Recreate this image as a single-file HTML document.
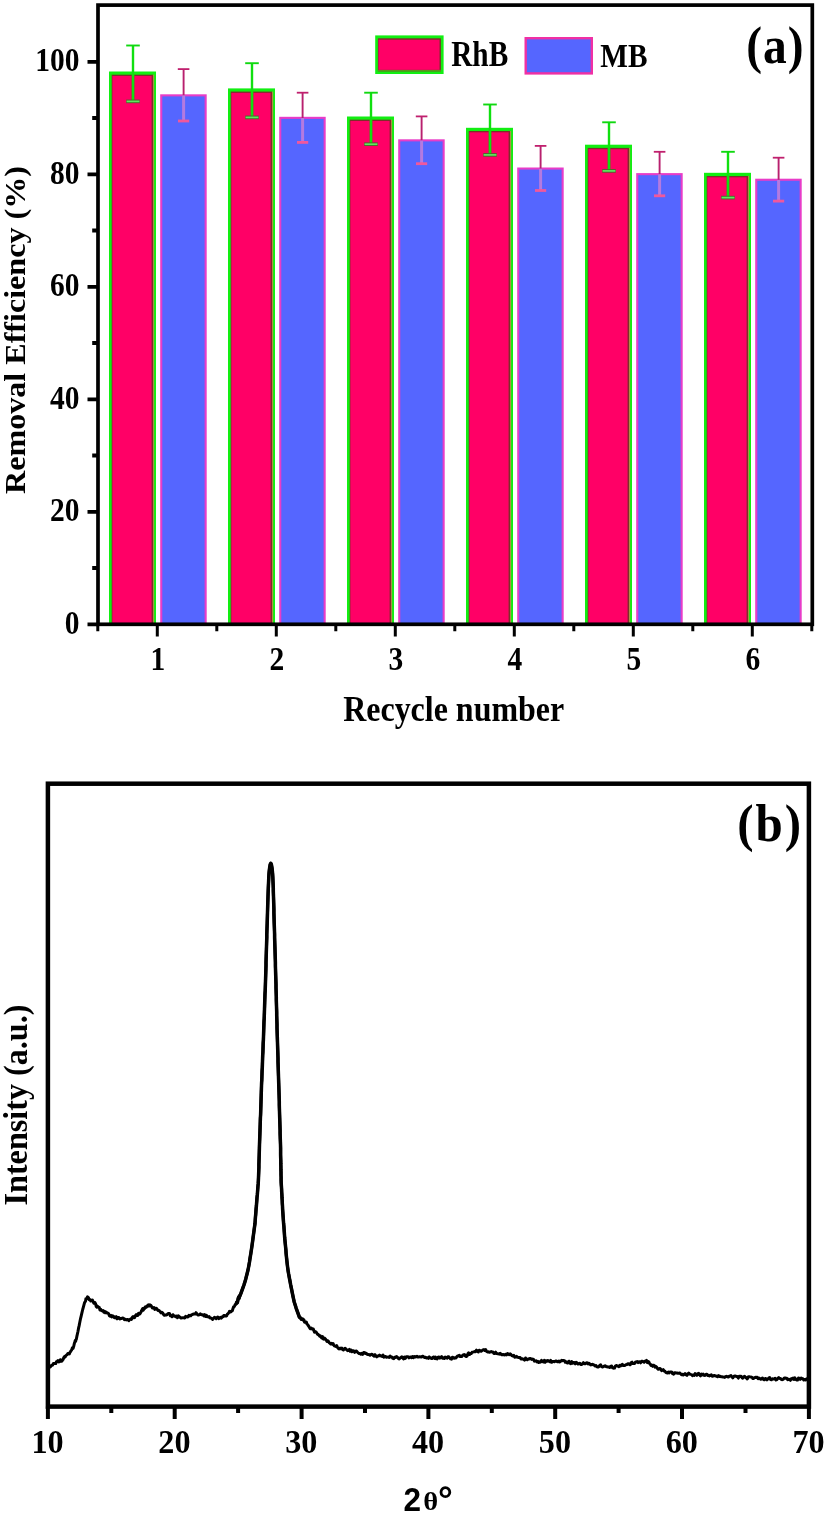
<!DOCTYPE html>
<html lang="en"><head><meta charset="utf-8"><title>Recycle removal efficiency and XRD pattern</title>
<style>html,body{margin:0;padding:0;background:#fff}body{width:827px;height:1518px;overflow:hidden}svg{display:block}text{font-family:"Liberation Serif","Times New Roman",serif;font-weight:bold;fill:#000}.sans{font-family:"Liberation Sans",Arial,sans-serif}</style></head><body>
<svg width="827" height="1518" viewBox="0 0 827 1518">
<rect width="827" height="1518" fill="#fff"/>
<g id="panel-a">
<rect x="109.0" y="71.5" width="47.0" height="552.8" fill="#12ee12"/>
<rect x="153.0" y="74.7" width="1.1" height="549.5" fill="#b09a48"/>
<rect x="111.7" y="74.7" width="41.4" height="549.5" fill="#7d2f2a"/>
<rect x="112.4" y="76.0" width="39.2" height="548.2" fill="#ff0066"/>
<rect x="160.2" y="94.3" width="46.5" height="530.0" fill="#e83cc8"/>
<rect x="162.3" y="96.4" width="42.3" height="527.9" fill="#5566ff"/>
<rect x="228.0" y="88.4" width="47.0" height="535.9" fill="#12ee12"/>
<rect x="272.0" y="91.6" width="1.1" height="532.7" fill="#b09a48"/>
<rect x="230.7" y="91.6" width="41.4" height="532.7" fill="#7d2f2a"/>
<rect x="231.4" y="92.9" width="39.2" height="531.4" fill="#ff0066"/>
<rect x="279.2" y="116.8" width="46.5" height="507.4" fill="#e83cc8"/>
<rect x="281.3" y="118.9" width="42.3" height="505.4" fill="#5566ff"/>
<rect x="347.0" y="116.5" width="47.0" height="507.8" fill="#12ee12"/>
<rect x="391.0" y="119.7" width="1.1" height="504.6" fill="#b09a48"/>
<rect x="349.7" y="119.7" width="41.4" height="504.6" fill="#7d2f2a"/>
<rect x="350.4" y="121.0" width="39.2" height="503.2" fill="#ff0066"/>
<rect x="398.2" y="139.3" width="46.5" height="484.9" fill="#e83cc8"/>
<rect x="400.3" y="141.4" width="42.3" height="482.9" fill="#5566ff"/>
<rect x="466.0" y="127.8" width="47.0" height="496.5" fill="#12ee12"/>
<rect x="510.0" y="131.0" width="1.1" height="493.3" fill="#b09a48"/>
<rect x="468.7" y="131.0" width="41.4" height="493.3" fill="#7d2f2a"/>
<rect x="469.4" y="132.3" width="39.2" height="492.0" fill="#ff0066"/>
<rect x="517.2" y="167.5" width="46.5" height="456.8" fill="#e83cc8"/>
<rect x="519.3" y="169.6" width="42.3" height="454.7" fill="#5566ff"/>
<rect x="585.0" y="144.7" width="47.0" height="479.6" fill="#12ee12"/>
<rect x="629.0" y="147.9" width="1.1" height="476.4" fill="#b09a48"/>
<rect x="587.7" y="147.9" width="41.4" height="476.4" fill="#7d2f2a"/>
<rect x="588.4" y="149.2" width="39.2" height="475.1" fill="#ff0066"/>
<rect x="636.2" y="173.1" width="46.5" height="451.2" fill="#e83cc8"/>
<rect x="638.3" y="175.2" width="42.3" height="449.1" fill="#5566ff"/>
<rect x="704.0" y="172.8" width="47.0" height="451.5" fill="#12ee12"/>
<rect x="748.0" y="176.0" width="1.1" height="448.3" fill="#b09a48"/>
<rect x="706.7" y="176.0" width="41.4" height="448.3" fill="#7d2f2a"/>
<rect x="707.4" y="177.3" width="39.2" height="447.0" fill="#ff0066"/>
<rect x="755.2" y="178.7" width="46.5" height="445.6" fill="#e83cc8"/>
<rect x="757.3" y="180.8" width="42.3" height="443.5" fill="#5566ff"/>
<path d="M133.0 75.0V101.4" stroke="#7a5a2a" stroke-width="3.6" fill="none" opacity="0.55"/>
<path d="M133.0 45.5V101.4" stroke="#10e010" stroke-width="2.4" fill="none"/>
<path d="M126.2 45.5H139.8" stroke="#10d810" stroke-width="1.9" fill="none"/>
<path d="M126.2 101.4H139.8" stroke="#4a6a2a" stroke-width="3.6" fill="none"/>
<path d="M126.6 101.4H139.4" stroke="#5fe65f" stroke-width="1.7" fill="none"/>
<path d="M183.6 69.1V95.5" stroke="#b8206e" stroke-width="1.9" fill="none"/>
<path d="M177.8 69.1H189.4" stroke="#c0206e" stroke-width="1.8" fill="none"/>
<path d="M183.6 95.5V121.0" stroke="#b47ae0" stroke-width="3" fill="none"/>
<path d="M178.0 121.0H189.2" stroke="#f0589c" stroke-width="2.8" fill="none"/>
<path d="M252.0 91.9V117.4" stroke="#7a5a2a" stroke-width="3.6" fill="none" opacity="0.55"/>
<path d="M252.0 63.2V117.4" stroke="#10e010" stroke-width="2.4" fill="none"/>
<path d="M245.2 63.2H258.8" stroke="#10d810" stroke-width="1.9" fill="none"/>
<path d="M245.2 117.4H258.8" stroke="#4a6a2a" stroke-width="3.6" fill="none"/>
<path d="M245.6 117.4H258.4" stroke="#5fe65f" stroke-width="1.7" fill="none"/>
<path d="M302.6 92.7V118.0" stroke="#b8206e" stroke-width="1.9" fill="none"/>
<path d="M296.8 92.7H308.4" stroke="#c0206e" stroke-width="1.8" fill="none"/>
<path d="M302.6 118.0V142.4" stroke="#b47ae0" stroke-width="3" fill="none"/>
<path d="M297.0 142.4H308.2" stroke="#f0589c" stroke-width="2.8" fill="none"/>
<path d="M371.0 120.0V144.2" stroke="#7a5a2a" stroke-width="3.6" fill="none" opacity="0.55"/>
<path d="M371.0 92.7V144.2" stroke="#10e010" stroke-width="2.4" fill="none"/>
<path d="M364.2 92.7H377.8" stroke="#10d810" stroke-width="1.9" fill="none"/>
<path d="M364.2 144.2H377.8" stroke="#4a6a2a" stroke-width="3.6" fill="none"/>
<path d="M364.6 144.2H377.4" stroke="#5fe65f" stroke-width="1.7" fill="none"/>
<path d="M421.6 116.4V140.5" stroke="#b8206e" stroke-width="1.9" fill="none"/>
<path d="M415.8 116.4H427.4" stroke="#c0206e" stroke-width="1.8" fill="none"/>
<path d="M421.6 140.5V163.7" stroke="#b47ae0" stroke-width="3" fill="none"/>
<path d="M416.0 163.7H427.2" stroke="#f0589c" stroke-width="2.8" fill="none"/>
<path d="M490.0 131.3V154.9" stroke="#7a5a2a" stroke-width="3.6" fill="none" opacity="0.55"/>
<path d="M490.0 104.5V154.9" stroke="#10e010" stroke-width="2.4" fill="none"/>
<path d="M483.2 104.5H496.8" stroke="#10d810" stroke-width="1.9" fill="none"/>
<path d="M483.2 154.9H496.8" stroke="#4a6a2a" stroke-width="3.6" fill="none"/>
<path d="M483.6 154.9H496.4" stroke="#5fe65f" stroke-width="1.7" fill="none"/>
<path d="M540.6 145.9V168.7" stroke="#b8206e" stroke-width="1.9" fill="none"/>
<path d="M534.8 145.9H546.4" stroke="#c0206e" stroke-width="1.8" fill="none"/>
<path d="M540.6 168.7V190.5" stroke="#b47ae0" stroke-width="3" fill="none"/>
<path d="M535.0 190.5H546.2" stroke="#f0589c" stroke-width="2.8" fill="none"/>
<path d="M609.0 148.2V170.9" stroke="#7a5a2a" stroke-width="3.6" fill="none" opacity="0.55"/>
<path d="M609.0 122.3V170.9" stroke="#10e010" stroke-width="2.4" fill="none"/>
<path d="M602.2 122.3H615.8" stroke="#10d810" stroke-width="1.9" fill="none"/>
<path d="M602.2 170.9H615.8" stroke="#4a6a2a" stroke-width="3.6" fill="none"/>
<path d="M602.6 170.9H615.4" stroke="#5fe65f" stroke-width="1.7" fill="none"/>
<path d="M659.6 151.8V174.3" stroke="#b8206e" stroke-width="1.9" fill="none"/>
<path d="M653.8 151.8H665.4" stroke="#c0206e" stroke-width="1.8" fill="none"/>
<path d="M659.6 174.3V195.8" stroke="#b47ae0" stroke-width="3" fill="none"/>
<path d="M654.0 195.8H665.2" stroke="#f0589c" stroke-width="2.8" fill="none"/>
<path d="M728.0 176.3V197.6" stroke="#7a5a2a" stroke-width="3.6" fill="none" opacity="0.55"/>
<path d="M728.0 151.8V197.6" stroke="#10e010" stroke-width="2.4" fill="none"/>
<path d="M721.2 151.8H734.8" stroke="#10d810" stroke-width="1.9" fill="none"/>
<path d="M721.2 197.6H734.8" stroke="#4a6a2a" stroke-width="3.6" fill="none"/>
<path d="M721.6 197.6H734.4" stroke="#5fe65f" stroke-width="1.7" fill="none"/>
<path d="M778.6 157.7V179.9" stroke="#b8206e" stroke-width="1.9" fill="none"/>
<path d="M772.8 157.7H784.4" stroke="#c0206e" stroke-width="1.8" fill="none"/>
<path d="M778.6 179.9V201.1" stroke="#b47ae0" stroke-width="3" fill="none"/>
<path d="M773.0 201.1H784.2" stroke="#f0589c" stroke-width="2.8" fill="none"/>
<rect x="98.0" y="5.1" width="714.3" height="619.1999999999999" fill="none" stroke="#000" stroke-width="3.7"/>
<path d="M87.5 624.3H98.0M92.2 568.0H98.0M87.5 511.8H98.0M92.2 455.5H98.0M87.5 399.3H98.0M92.2 343.0H98.0M87.5 286.8H98.0M92.2 230.5H98.0M87.5 174.3H98.0M92.2 118.0H98.0M87.5 61.8H98.0" stroke="#000" stroke-width="3.8" fill="none"/>
<path d="M157.3 624.3V636.5M276.3 624.3V636.5M395.3 624.3V636.5M514.3 624.3V636.5M633.3 624.3V636.5M752.3 624.3V636.5M97.8 624.3V631.3M216.8 624.3V631.3M335.8 624.3V631.3M454.8 624.3V631.3M573.8 624.3V631.3M692.8 624.3V631.3M811.8 624.3V631.3" stroke="#000" stroke-width="3.0" fill="none"/>
<text transform="translate(79.4 633.9) scale(1 1.15)" font-size="29.5" text-anchor="end">0</text>
<text transform="translate(79.4 521.4) scale(1 1.15)" font-size="29.5" text-anchor="end">20</text>
<text transform="translate(79.4 408.9) scale(1 1.15)" font-size="29.5" text-anchor="end">40</text>
<text transform="translate(79.4 296.4) scale(1 1.15)" font-size="29.5" text-anchor="end">60</text>
<text transform="translate(79.4 183.9) scale(1 1.15)" font-size="29.5" text-anchor="end">80</text>
<text transform="translate(79.4 71.4) scale(1 1.15)" font-size="29.5" text-anchor="end">100</text>
<text transform="translate(157.9 670.4) scale(1 1.14)" font-size="29.5" text-anchor="middle">1</text>
<text transform="translate(276.9 670.4) scale(1 1.14)" font-size="29.5" text-anchor="middle">2</text>
<text transform="translate(395.9 670.4) scale(1 1.14)" font-size="29.5" text-anchor="middle">3</text>
<text transform="translate(514.9 670.4) scale(1 1.14)" font-size="29.5" text-anchor="middle">4</text>
<text transform="translate(633.9 670.4) scale(1 1.14)" font-size="29.5" text-anchor="middle">5</text>
<text transform="translate(752.9 670.4) scale(1 1.14)" font-size="29.5" text-anchor="middle">6</text>
<text x="343.2" y="720.8" font-size="34.8" textLength="221" lengthAdjust="spacingAndGlyphs">Recycle number</text>
<text transform="translate(25.0 494) rotate(-90)" font-size="28.8" textLength="328" lengthAdjust="spacingAndGlyphs">Removal Efficiency (%)</text>
<rect x="375.2" y="35.4" width="68.4" height="38.6" fill="#12ee12"/>
<rect x="377.9" y="38.3" width="63.0" height="33.0" fill="#7d2f2a"/>
<rect x="377.9" y="69.8" width="63.0" height="1.5" fill="#5f8f20"/>
<rect x="378.5" y="39.7" width="61.0" height="30.1" fill="#ff0066"/>
<text transform="translate(451.2 65.6) scale(1 1.19)" font-size="29.3" text-anchor="start">RhB</text>
<rect x="524.5" y="37" width="68.5" height="37.6" fill="#f030a4"/>
<rect x="526.9" y="39.4" width="63.7" height="32.8" fill="#5566ff"/>
<text transform="translate(600.3 67.1) scale(1 1.14)" font-size="29.3" text-anchor="start">MB</text>
<text transform="translate(746.2 62.6) scale(1 1.09)" font-size="47.5" letter-spacing="1.0">(a)</text>
</g>
<g id="panel-b">
<path d="M48.8 1366.5L49.5 1366.6L50.3 1367.0L51.1 1365.8L51.8 1365.3L52.6 1365.0L53.4 1363.5L54.2 1363.6L54.9 1363.5L55.7 1363.6L56.5 1361.6L57.2 1361.4L58.0 1360.5L58.8 1361.9L59.5 1361.7L60.3 1359.7L61.0 1361.2L61.8 1361.2L62.5 1360.1L63.1 1359.4L63.8 1357.6L64.5 1356.5L65.1 1357.0L65.8 1355.6L66.5 1355.1L67.1 1354.7L67.8 1353.6L68.3 1353.9L68.8 1353.4L69.4 1353.8L69.9 1352.5L70.4 1351.9L71.0 1350.8L71.5 1350.3L72.0 1348.9L72.4 1347.7L72.7 1348.6L73.1 1348.3L73.4 1347.2L73.8 1346.0L74.2 1344.1L74.5 1342.8L74.9 1342.0L75.2 1340.6L75.6 1341.4L75.9 1340.0L76.3 1339.3L76.8 1336.7L77.4 1334.0L78.0 1331.2L78.5 1328.4L79.2 1325.4L79.8 1322.3L80.4 1319.2L81.1 1316.3L81.9 1312.8L82.7 1309.5L83.5 1306.6L84.5 1302.8L85.6 1300.9L85.9 1298.7L86.3 1299.1L86.6 1298.8L87.5 1296.8L88.4 1297.6L89.2 1299.7L90.0 1299.5L90.8 1301.0L91.6 1300.4L92.4 1300.0L93.2 1301.9L93.8 1303.1L94.4 1302.6L95.0 1302.6L95.6 1303.9L96.2 1306.4L96.9 1307.1L97.5 1306.2L98.1 1306.9L98.7 1307.2L99.3 1307.6L100.0 1310.0L100.8 1309.4L101.5 1310.6L102.3 1310.9L103.0 1310.6L103.8 1312.2L104.5 1311.3L105.3 1312.8L106.1 1312.1L106.9 1313.0L107.7 1313.1L108.5 1313.5L109.4 1315.7L110.2 1316.2L111.0 1315.3L111.8 1316.9L112.6 1315.8L113.5 1316.3L114.4 1317.8L115.3 1317.8L116.2 1316.7L117.1 1318.8L118.0 1317.6L118.9 1317.6L119.8 1319.0L120.7 1318.4L121.6 1318.4L122.5 1318.0L123.4 1318.2L124.4 1319.6L125.3 1319.2L126.2 1320.0L127.1 1319.6L128.0 1319.6L128.8 1320.7L129.7 1319.5L130.5 1319.1L131.4 1319.5L132.2 1317.5L133.1 1316.5L133.9 1317.8L134.6 1317.6L135.4 1315.7L136.2 1314.7L136.9 1315.4L137.7 1315.6L138.5 1313.4L139.2 1314.2L140.0 1313.8L140.7 1312.6L141.4 1311.3L142.0 1309.7L142.7 1308.6L143.4 1310.1L144.1 1308.1L144.8 1308.3L145.5 1306.7L146.1 1307.4L146.8 1306.7L147.5 1305.6L148.3 1304.9L149.1 1306.1L149.9 1304.9L150.8 1305.3L151.6 1306.6L152.4 1308.0L153.2 1308.1L154.0 1307.6L154.8 1309.4L155.5 1308.5L156.3 1308.3L157.1 1309.3L157.9 1310.4L158.7 1310.2L159.4 1310.9L160.2 1311.9L161.0 1312.9L161.8 1312.3L162.7 1312.9L163.5 1314.5L164.4 1315.3L165.2 1314.9L166.1 1315.0L166.9 1314.8L167.8 1313.8L168.6 1313.4L169.5 1313.4L170.3 1315.7L171.2 1315.9L172.0 1316.7L172.9 1314.7L173.8 1315.9L174.8 1316.0L175.7 1316.7L176.6 1316.0L177.5 1317.7L178.4 1315.9L179.3 1316.7L180.2 1317.5L181.2 1318.1L182.1 1317.9L183.0 1317.7L183.9 1317.8L184.7 1318.0L185.6 1316.4L186.5 1316.7L187.3 1317.0L188.2 1316.8L189.0 1315.3L189.9 1315.7L190.8 1315.7L191.6 1314.8L192.5 1314.6L193.4 1313.9L194.2 1314.1L195.1 1314.1L196.0 1312.7L196.8 1313.8L197.7 1314.9L198.6 1315.0L199.4 1314.7L200.3 1313.8L201.2 1314.7L202.1 1314.7L202.9 1314.7L203.8 1316.0L204.7 1314.7L205.6 1316.4L206.4 1315.3L207.3 1316.7L208.2 1316.9L209.1 1316.6L210.0 1318.0L210.9 1318.0L211.8 1318.5L212.7 1319.5L213.6 1318.2L214.5 1317.3L215.3 1317.8L216.2 1318.7L217.0 1317.6L217.8 1317.0L218.7 1318.6L219.5 1318.2L220.4 1317.4L221.3 1318.1L222.2 1316.7L223.1 1316.8L223.8 1315.4L224.6 1315.4L225.3 1316.0L226.0 1316.1L226.7 1315.7L227.4 1314.0L228.2 1313.6L228.9 1312.4L229.5 1311.3L230.1 1311.5L230.6 1312.0L231.2 1311.7L231.8 1310.8L232.4 1310.6L233.0 1308.4L233.5 1307.0L234.1 1306.8L234.7 1305.7L235.1 1304.8L235.5 1304.5L235.9 1304.4L236.3 1303.5L236.7 1302.3L237.1 1302.7L237.4 1302.5L237.8 1300.5L238.2 1298.5L238.6 1297.2L239.0 1298.4L239.4 1295.9L239.8 1296.1L240.9 1293.4L241.9 1290.6L243.0 1287.6L244.1 1284.5L244.9 1281.9L245.7 1279.2L246.4 1276.4L247.2 1273.3L248.0 1270.0L248.5 1267.5L249.0 1264.8L249.5 1262.0L249.9 1259.1L250.4 1256.1L250.9 1253.0L251.4 1249.7L251.8 1247.0L252.2 1244.2L252.6 1241.3L253.0 1238.3L253.4 1235.2L253.8 1232.2L254.2 1229.2L254.6 1226.3L255.0 1223.5L255.2 1220.5L255.4 1217.5L255.7 1214.5L255.9 1211.6L256.1 1208.8L256.4 1206.0L256.6 1203.2L256.8 1200.5L257.0 1197.6L257.3 1194.9L257.5 1192.3L257.7 1189.7L257.9 1186.9L258.2 1183.7L258.4 1180.0L258.5 1177.6L258.6 1175.2L258.7 1172.6L258.8 1170.0L258.9 1167.2L258.9 1164.4L259.0 1161.4L259.1 1158.3L259.2 1155.0L259.3 1151.7L259.4 1148.1L259.5 1144.4L259.6 1141.8L259.7 1139.1L259.8 1136.3L259.9 1133.4L260.0 1130.4L260.1 1127.4L260.2 1124.3L260.3 1121.1L260.4 1117.9L260.6 1114.7L260.7 1111.5L260.8 1108.2L260.9 1104.9L261.0 1101.7L261.1 1098.5L261.2 1095.3L261.3 1092.1L261.4 1089.0L261.5 1085.9L261.6 1082.9L261.8 1079.8L261.9 1076.7L262.0 1073.6L262.1 1070.6L262.3 1067.5L262.4 1064.4L262.5 1061.4L262.6 1058.3L262.7 1055.2L262.9 1052.1L263.0 1049.1L263.1 1046.0L263.2 1042.9L263.4 1039.8L263.5 1036.8L263.6 1033.7L263.7 1030.6L263.8 1027.5L263.9 1024.5L264.0 1021.4L264.2 1018.3L264.3 1015.2L264.4 1012.2L264.5 1009.1L264.6 1006.0L264.7 1002.9L264.8 999.8L264.9 996.8L265.0 993.7L265.2 990.6L265.3 987.5L265.4 984.5L265.5 981.4L265.6 978.3L265.7 975.2L265.8 972.1L265.9 968.9L266.0 965.7L266.0 962.5L266.1 959.3L266.2 956.1L266.3 953.0L266.4 949.8L266.5 946.6L266.6 943.5L266.7 940.4L266.8 937.4L266.8 934.4L266.9 931.4L267.0 928.5L267.1 925.7L267.2 923.0L267.3 919.5L267.4 916.1L267.5 912.7L267.6 909.3L267.7 906.0L267.8 902.8L267.9 899.6L268.0 896.6L268.1 893.7L268.2 890.9L268.3 888.3L268.4 885.8L268.5 883.6L268.6 881.5L268.8 876.9L269.0 873.7L269.2 871.4L269.4 869.7L269.6 868.0L270.2 864.5L270.8 863.3L271.4 864.5L272.0 868.0L272.2 869.7L272.4 871.4L272.6 873.7L272.8 876.9L273.0 881.5L273.1 883.6L273.2 885.8L273.3 888.3L273.3 890.9L273.4 893.7L273.5 896.6L273.6 899.6L273.7 902.8L273.8 906.0L273.9 909.3L273.9 912.7L274.0 916.1L274.1 919.5L274.2 923.0L274.3 925.7L274.4 928.5L274.5 931.4L274.6 934.4L274.6 937.4L274.7 940.4L274.8 943.5L274.9 946.6L275.0 949.8L275.1 953.0L275.2 956.1L275.3 959.3L275.4 962.5L275.4 965.7L275.5 968.9L275.6 972.1L275.7 975.2L275.8 978.3L275.9 981.4L276.0 984.5L276.0 987.5L276.1 990.6L276.2 993.7L276.3 996.8L276.3 999.8L276.4 1002.9L276.5 1006.0L276.6 1009.1L276.7 1012.2L276.7 1015.2L276.8 1018.3L276.9 1021.4L277.0 1024.5L277.0 1027.5L277.1 1030.6L277.2 1033.7L277.3 1036.8L277.4 1039.8L277.5 1042.9L277.6 1046.0L277.7 1049.1L277.8 1052.1L277.9 1055.2L278.0 1058.3L278.0 1061.4L278.1 1064.4L278.2 1067.5L278.3 1070.6L278.4 1073.6L278.5 1076.7L278.6 1079.8L278.7 1082.9L278.8 1085.9L278.9 1089.0L279.0 1092.1L279.1 1095.3L279.2 1098.5L279.3 1101.7L279.3 1104.9L279.4 1108.2L279.5 1111.5L279.6 1114.7L279.7 1117.9L279.8 1121.1L279.9 1124.3L280.0 1127.4L280.1 1130.4L280.1 1133.4L280.2 1136.3L280.3 1139.1L280.4 1141.8L280.5 1144.4L280.6 1148.1L280.6 1151.6L280.6 1154.8L280.7 1158.0L280.8 1161.0L280.8 1163.9L280.9 1166.6L280.9 1169.4L281.0 1172.0L281.0 1174.7L281.1 1177.3L281.1 1180.0L281.2 1183.2L281.4 1186.2L281.6 1189.2L281.7 1192.1L281.9 1194.9L282.0 1197.7L282.2 1200.5L282.3 1203.3L282.5 1206.1L282.6 1209.0L282.8 1211.9L283.0 1214.8L283.2 1217.7L283.4 1220.6L283.6 1223.5L283.9 1226.4L284.1 1229.3L284.3 1232.2L284.5 1235.1L284.7 1238.0L285.0 1241.0L285.3 1244.0L285.6 1247.1L285.9 1250.2L286.1 1253.3L286.4 1256.3L286.7 1259.2L287.0 1262.0L287.3 1264.7L287.6 1267.1L288.1 1270.7L288.6 1273.8L289.1 1276.5L289.6 1279.1L290.1 1281.7L290.6 1284.5L291.2 1287.4L291.8 1290.4L292.4 1293.4L293.0 1296.3L293.6 1299.2L294.2 1301.9L295.2 1305.1L296.2 1308.3L297.3 1311.3L298.3 1314.1L299.3 1316.9L299.9 1317.7L300.6 1317.8L301.2 1319.5L301.9 1318.5L302.6 1318.9L303.2 1320.2L303.9 1319.8L304.5 1322.2L305.2 1321.8L305.8 1322.0L306.4 1322.2L307.0 1324.1L307.7 1324.6L308.3 1325.7L308.9 1326.5L309.5 1327.5L310.1 1328.7L310.8 1328.8L311.4 1328.1L312.0 1329.1L312.6 1329.0L313.3 1329.1L313.9 1330.7L314.5 1332.1L315.2 1331.6L316.0 1332.1L316.7 1332.8L317.4 1334.2L318.1 1334.5L318.9 1335.2L319.6 1336.1L320.3 1335.8L321.1 1337.1L321.8 1338.0L322.5 1336.6L323.2 1338.8L324.0 1339.2L324.7 1338.2L325.5 1339.0L326.2 1340.0L327.0 1341.4L327.7 1340.7L328.5 1341.4L329.2 1342.7L330.0 1343.2L330.7 1344.0L331.5 1343.4L332.2 1344.1L333.0 1343.5L333.7 1345.0L334.5 1345.9L335.2 1346.0L336.0 1346.5L336.7 1345.7L337.5 1347.5L338.4 1348.4L339.2 1348.9L340.1 1348.1L340.9 1348.8L341.8 1348.0L342.6 1349.5L343.4 1350.0L344.3 1349.0L345.2 1348.3L346.0 1349.2L346.9 1349.9L347.7 1350.7L348.6 1350.4L349.4 1349.4L350.2 1351.3L351.1 1350.0L352.0 1351.7L352.9 1350.7L353.8 1351.0L354.7 1352.3L355.5 1351.2L356.4 1351.0L357.3 1352.0L358.2 1352.9L359.1 1353.6L360.0 1353.5L360.9 1354.2L361.8 1353.3L362.7 1354.4L363.6 1352.6L364.4 1352.6L365.3 1353.5L366.2 1353.2L367.1 1354.4L368.0 1354.6L368.9 1354.4L369.8 1355.3L370.6 1354.9L371.5 1354.2L372.4 1354.4L373.3 1355.6L374.2 1356.2L375.1 1354.7L375.9 1356.0L376.8 1356.8L377.7 1355.9L378.6 1355.9L379.5 1355.1L380.4 1355.8L381.2 1356.0L382.1 1356.4L383.0 1355.1L383.9 1357.2L384.8 1356.7L385.7 1356.4L386.5 1357.3L387.4 1357.1L388.3 1356.9L389.2 1357.4L390.1 1356.1L391.0 1357.0L391.9 1357.0L392.8 1358.4L393.7 1358.7L394.6 1357.2L395.6 1357.4L396.5 1356.6L397.4 1357.2L398.3 1358.4L399.2 1358.9L400.1 1358.0L401.0 1357.4L401.9 1356.9L402.8 1357.9L403.7 1358.9L404.5 1357.1L405.4 1358.3L406.3 1356.7L407.2 1356.7L408.1 1356.7L409.0 1357.9L409.8 1357.2L410.7 1357.1L411.6 1357.7L412.5 1356.5L413.4 1357.7L414.3 1356.5L415.1 1357.1L416.0 1356.6L416.9 1356.3L417.8 1357.0L418.7 1357.0L419.6 1356.8L420.4 1356.8L421.3 1357.1L422.2 1356.2L423.1 1356.2L424.0 1357.2L424.8 1357.5L425.7 1357.3L426.6 1358.1L427.5 1357.7L428.4 1358.3L429.3 1356.9L430.1 1357.8L431.0 1358.3L431.9 1358.6L432.8 1357.3L433.7 1357.0L434.6 1358.5L435.4 1357.1L436.3 1358.7L437.2 1358.9L438.1 1357.1L439.0 1356.9L439.9 1358.1L440.7 1357.3L441.6 1356.7L442.5 1358.3L443.4 1357.8L444.3 1358.5L445.2 1357.1L446.1 1357.4L447.0 1358.2L447.9 1356.7L448.8 1356.8L449.7 1358.0L450.6 1358.9L451.5 1359.2L452.4 1357.2L453.3 1357.6L454.2 1358.3L455.1 1357.7L456.0 1358.0L456.9 1356.7L457.7 1356.0L458.6 1355.8L459.4 1355.4L460.2 1356.5L461.1 1356.5L461.9 1356.4L462.8 1355.2L463.6 1354.8L464.5 1354.6L465.3 1355.9L466.2 1356.5L467.0 1356.2L467.9 1353.8L468.7 1352.8L469.6 1354.5L470.4 1353.4L471.2 1353.6L472.1 1352.3L472.9 1352.1L473.8 1351.9L474.6 1351.5L475.5 1351.7L476.5 1350.2L477.4 1351.4L478.3 1351.9L479.2 1350.3L480.2 1350.6L481.1 1351.3L482.0 1350.6L482.9 1349.9L483.9 1349.6L484.8 1350.5L485.7 1349.5L486.6 1351.5L487.5 1351.9L488.4 1351.8L489.3 1352.3L490.2 1352.0L491.2 1351.5L492.1 1352.0L493.0 1352.0L493.9 1353.4L494.8 1353.4L495.7 1352.2L496.6 1353.6L497.5 1353.7L498.4 1353.9L499.3 1354.2L500.2 1353.3L501.1 1354.4L502.0 1354.8L502.9 1354.5L503.9 1354.8L504.8 1354.9L505.7 1354.2L506.6 1354.9L507.5 1353.6L508.4 1354.1L509.3 1354.7L510.2 1353.8L511.1 1354.6L512.0 1355.7L512.9 1356.1L513.8 1355.4L514.7 1357.2L515.6 1357.1L516.5 1356.4L517.4 1357.2L518.3 1357.4L519.2 1357.5L520.1 1357.4L521.0 1359.0L521.9 1358.7L522.8 1359.0L523.7 1359.3L524.6 1360.1L525.5 1358.0L526.4 1359.1L527.3 1359.8L528.1 1358.9L529.0 1359.1L529.9 1358.4L530.8 1358.7L531.7 1359.4L532.6 1359.0L533.5 1359.4L534.4 1361.2L535.3 1360.9L536.2 1360.8L537.0 1362.0L537.9 1361.4L538.8 1362.4L539.7 1361.8L540.6 1362.1L541.5 1360.4L542.4 1361.4L543.4 1362.0L544.3 1360.4L545.2 1362.3L546.1 1360.8L547.0 1361.2L547.9 1360.6L548.9 1361.2L549.8 1361.7L550.7 1360.4L551.6 1362.3L552.5 1361.5L553.5 1361.5L554.4 1361.7L555.3 1361.2L556.2 1360.9L557.1 1361.7L558.0 1361.7L559.0 1361.0L559.9 1362.0L560.8 1361.2L561.7 1360.3L562.6 1360.7L563.5 1360.4L564.4 1360.6L565.3 1362.2L566.2 1361.7L567.1 1362.9L568.0 1362.9L568.9 1361.2L569.8 1363.2L570.7 1363.6L571.7 1361.6L572.6 1363.2L573.5 1362.5L574.4 1362.5L575.3 1363.8L576.2 1362.4L577.1 1362.8L578.0 1364.0L578.9 1363.8L579.8 1363.2L580.7 1364.4L581.6 1364.4L582.5 1363.9L583.4 1362.7L584.3 1363.7L585.2 1363.7L586.1 1363.1L587.1 1362.7L588.0 1363.9L588.9 1363.3L589.8 1364.0L590.7 1364.9L591.6 1364.7L592.5 1364.2L593.4 1365.0L594.3 1364.9L595.2 1365.9L596.1 1365.6L597.0 1366.8L598.0 1367.1L598.9 1366.7L599.8 1365.4L600.7 1364.9L601.6 1366.7L602.5 1367.0L603.4 1366.7L604.3 1366.1L605.3 1365.8L606.2 1366.8L607.1 1366.8L608.0 1367.0L608.9 1367.1L609.9 1367.5L610.8 1366.2L611.7 1366.1L612.6 1367.9L613.5 1368.2L614.5 1368.1L615.4 1366.0L616.3 1365.5L617.2 1365.8L618.0 1366.2L618.9 1366.7L619.8 1365.4L620.7 1366.0L621.5 1364.8L622.4 1364.4L623.3 1365.6L624.2 1365.5L625.0 1365.5L625.9 1364.7L626.8 1364.6L627.7 1363.7L628.5 1363.7L629.4 1364.5L630.3 1364.8L631.1 1362.8L632.0 1362.2L632.9 1363.6L633.7 1363.4L634.6 1363.5L635.5 1362.0L636.3 1362.0L637.2 1361.5L638.1 1362.6L638.9 1361.7L639.8 1362.0L640.6 1362.8L641.5 1361.2L642.4 1361.3L643.2 1361.7L644.1 1362.3L644.9 1361.2L645.8 1360.9L646.5 1360.4L647.3 1362.6L648.0 1361.5L648.8 1361.8L649.5 1363.5L650.3 1364.3L651.0 1365.4L651.8 1365.0L652.6 1366.3L653.4 1365.2L654.2 1365.6L655.0 1367.1L655.8 1366.4L656.7 1367.1L657.5 1368.6L658.3 1369.3L659.1 1368.7L659.9 1368.5L660.7 1369.2L661.5 1370.6L662.4 1370.2L663.2 1369.6L664.1 1371.1L665.0 1371.3L665.8 1372.4L666.7 1372.8L667.6 1373.0L668.4 1372.0L669.3 1372.8L670.1 1371.9L671.0 1371.9L671.9 1372.2L672.7 1373.7L673.6 1374.1L674.5 1372.7L675.3 1372.8L676.2 1372.9L677.1 1373.0L677.9 1373.2L678.8 1373.3L679.7 1372.9L680.6 1373.8L681.5 1374.7L682.4 1374.3L683.3 1375.0L684.2 1374.5L685.1 1373.5L686.0 1374.7L686.9 1375.3L687.8 1374.0L688.7 1373.1L689.7 1374.1L690.6 1374.4L691.5 1374.6L692.4 1375.6L693.3 1375.1L694.2 1375.4L695.1 1373.6L696.0 1374.4L696.9 1375.3L697.8 1373.7L698.7 1373.4L699.6 1375.0L700.5 1375.8L701.4 1374.0L702.3 1375.0L703.2 1374.0L704.1 1375.3L705.0 1375.4L705.9 1374.5L706.8 1374.2L707.7 1375.5L708.6 1375.3L709.5 1375.9L710.4 1375.1L711.3 1374.8L712.2 1376.3L713.1 1376.0L713.9 1375.5L714.8 1375.6L715.7 1376.0L716.6 1376.2L717.5 1376.8L718.4 1375.7L719.3 1376.5L720.2 1376.3L721.1 1376.8L722.0 1376.8L722.9 1376.9L723.8 1377.1L724.7 1377.4L725.6 1376.7L726.5 1376.3L727.4 1376.7L728.3 1377.1L729.2 1376.3L730.1 1376.1L731.0 1375.5L731.9 1376.8L732.8 1377.9L733.7 1376.7L734.6 1375.9L735.5 1375.9L736.4 1376.5L737.3 1376.4L738.3 1378.1L739.2 1376.3L740.1 1376.5L741.0 1376.2L741.9 1377.5L742.8 1378.2L743.7 1376.9L744.6 1376.4L745.5 1377.3L746.4 1377.9L747.3 1378.9L748.2 1377.0L749.1 1376.7L750.0 1376.9L750.9 1377.1L751.8 1377.2L752.7 1378.4L753.6 1378.5L754.5 1377.6L755.4 1377.3L756.3 1377.5L757.2 1377.3L758.1 1378.7L759.0 1378.0L759.9 1378.5L760.8 1379.3L761.7 1378.6L762.5 1378.0L763.4 1379.4L764.3 1379.8L765.2 1378.5L766.1 1378.7L767.0 1379.8L767.9 1379.0L768.8 1378.1L769.7 1377.5L770.6 1379.6L771.5 1379.8L772.4 1378.8L773.3 1378.9L774.2 1378.9L775.1 1378.3L776.0 1380.0L776.9 1379.6L777.8 1378.4L778.7 1377.6L779.6 1378.5L780.5 1378.5L781.4 1379.6L782.3 1379.7L783.2 1379.4L784.1 1378.2L785.0 1377.9L785.9 1378.3L786.8 1378.2L787.7 1379.7L788.6 1379.2L789.5 1379.4L790.4 1380.3L791.2 1378.7L792.1 1379.0L793.0 1378.1L793.9 1379.4L794.8 1377.8L795.7 1379.5L796.6 1379.9L797.5 1380.0L798.4 1378.1L799.3 1378.2L800.2 1379.3L801.1 1378.0L802.0 1378.6L802.9 1378.8L803.8 1380.0L804.7 1379.4L805.6 1379.9L806.5 1378.9" stroke="#000" stroke-width="3.0" fill="none" stroke-linejoin="round" stroke-linecap="round"/>
<path d="M236.3 1303.5L236.7 1302.3L237.1 1302.7L237.4 1302.5L237.8 1300.5L238.2 1298.5L238.6 1297.2L239.0 1298.4L239.4 1295.9L239.8 1296.1L240.9 1293.4L241.9 1290.6L243.0 1287.6L244.1 1284.5L244.9 1281.9L245.7 1279.2L246.4 1276.4L247.2 1273.3L248.0 1270.0L248.5 1267.5L249.0 1264.8L249.5 1262.0L249.9 1259.1L250.4 1256.1L250.9 1253.0L251.4 1249.7L251.8 1247.0L252.2 1244.2L252.6 1241.3L253.0 1238.3L253.4 1235.2L253.8 1232.2L254.2 1229.2L254.6 1226.3L255.0 1223.5L255.2 1220.5L255.4 1217.5L255.7 1214.5L255.9 1211.6L256.1 1208.8L256.4 1206.0L256.6 1203.2L256.8 1200.5L257.0 1197.6L257.3 1194.9L257.5 1192.3L257.7 1189.7L257.9 1186.9L258.2 1183.7L258.4 1180.0L258.5 1177.6L258.6 1175.2L258.7 1172.6L258.8 1170.0L258.9 1167.2L258.9 1164.4L259.0 1161.4L259.1 1158.3L259.2 1155.0L259.3 1151.7L259.4 1148.1L259.5 1144.4L259.6 1141.8L259.7 1139.1L259.8 1136.3L259.9 1133.4L260.0 1130.4L260.1 1127.4L260.2 1124.3L260.3 1121.1L260.4 1117.9L260.6 1114.7L260.7 1111.5L260.8 1108.2L260.9 1104.9L261.0 1101.7L261.1 1098.5L261.2 1095.3L261.3 1092.1L261.4 1089.0L261.5 1085.9L261.6 1082.9L261.8 1079.8L261.9 1076.7L262.0 1073.6L262.1 1070.6L262.3 1067.5L262.4 1064.4L262.5 1061.4L262.6 1058.3L262.7 1055.2L262.9 1052.1L263.0 1049.1L263.1 1046.0L263.2 1042.9L263.4 1039.8L263.5 1036.8L263.6 1033.7L263.7 1030.6L263.8 1027.5L263.9 1024.5L264.0 1021.4L264.2 1018.3L264.3 1015.2L264.4 1012.2L264.5 1009.1L264.6 1006.0L264.7 1002.9L264.8 999.8L264.9 996.8L265.0 993.7L265.2 990.6L265.3 987.5L265.4 984.5L265.5 981.4L265.6 978.3L265.7 975.2L265.8 972.1L265.9 968.9L266.0 965.7L266.0 962.5L266.1 959.3L266.2 956.1L266.3 953.0L266.4 949.8L266.5 946.6L266.6 943.5L266.7 940.4L266.8 937.4L266.8 934.4L266.9 931.4L267.0 928.5L267.1 925.7L267.2 923.0L267.3 919.5L267.4 916.1L267.5 912.7L267.6 909.3L267.7 906.0L267.8 902.8L267.9 899.6L268.0 896.6L268.1 893.7L268.2 890.9L268.3 888.3L268.4 885.8L268.5 883.6L268.6 881.5L268.8 876.9L269.0 873.7L269.2 871.4L269.4 869.7L269.6 868.0L270.2 864.5L270.8 863.3L271.4 864.5L272.0 868.0L272.2 869.7L272.4 871.4L272.6 873.7L272.8 876.9L273.0 881.5L273.1 883.6L273.2 885.8L273.3 888.3L273.3 890.9L273.4 893.7L273.5 896.6L273.6 899.6L273.7 902.8L273.8 906.0L273.9 909.3L273.9 912.7L274.0 916.1L274.1 919.5L274.2 923.0L274.3 925.7L274.4 928.5L274.5 931.4L274.6 934.4L274.6 937.4L274.7 940.4L274.8 943.5L274.9 946.6L275.0 949.8L275.1 953.0L275.2 956.1L275.3 959.3L275.4 962.5L275.4 965.7L275.5 968.9L275.6 972.1L275.7 975.2L275.8 978.3L275.9 981.4L276.0 984.5L276.0 987.5L276.1 990.6L276.2 993.7L276.3 996.8L276.3 999.8L276.4 1002.9L276.5 1006.0L276.6 1009.1L276.7 1012.2L276.7 1015.2L276.8 1018.3L276.9 1021.4L277.0 1024.5L277.0 1027.5L277.1 1030.6L277.2 1033.7L277.3 1036.8L277.4 1039.8L277.5 1042.9L277.6 1046.0L277.7 1049.1L277.8 1052.1L277.9 1055.2L278.0 1058.3L278.0 1061.4L278.1 1064.4L278.2 1067.5L278.3 1070.6L278.4 1073.6L278.5 1076.7L278.6 1079.8L278.7 1082.9L278.8 1085.9L278.9 1089.0L279.0 1092.1L279.1 1095.3L279.2 1098.5L279.3 1101.7L279.3 1104.9L279.4 1108.2L279.5 1111.5L279.6 1114.7L279.7 1117.9L279.8 1121.1L279.9 1124.3L280.0 1127.4L280.1 1130.4L280.1 1133.4L280.2 1136.3L280.3 1139.1L280.4 1141.8L280.5 1144.4L280.6 1148.1L280.6 1151.6L280.6 1154.8L280.7 1158.0L280.8 1161.0L280.8 1163.9L280.9 1166.6L280.9 1169.4L281.0 1172.0L281.0 1174.7L281.1 1177.3L281.1 1180.0L281.2 1183.2L281.4 1186.2L281.6 1189.2L281.7 1192.1L281.9 1194.9L282.0 1197.7L282.2 1200.5L282.3 1203.3L282.5 1206.1L282.6 1209.0L282.8 1211.9L283.0 1214.8L283.2 1217.7L283.4 1220.6L283.6 1223.5L283.9 1226.4L284.1 1229.3L284.3 1232.2L284.5 1235.1L284.7 1238.0L285.0 1241.0L285.3 1244.0L285.6 1247.1L285.9 1250.2L286.1 1253.3L286.4 1256.3L286.7 1259.2L287.0 1262.0L287.3 1264.7L287.6 1267.1L288.1 1270.7L288.6 1273.8L289.1 1276.5L289.6 1279.1L290.1 1281.7L290.6 1284.5L291.2 1287.4L291.8 1290.4L292.4 1293.4L293.0 1296.3L293.6 1299.2L294.2 1301.9L295.2 1305.1L296.2 1308.3L297.3 1311.3L298.3 1314.1L299.3 1316.9L299.9 1317.7" stroke="#000" stroke-width="3.5" fill="none" stroke-linejoin="round" stroke-linecap="round"/>
<rect x="47.9" y="783.7" width="761.0" height="622.8999999999999" fill="none" stroke="#000" stroke-width="4.5"/>
<path d="M47.9 1406.6V1419.1M174.7 1406.6V1419.1M301.6 1406.6V1419.1M428.4 1406.6V1419.1M555.2 1406.6V1419.1M682.0 1406.6V1419.1M808.9 1406.6V1419.1M111.3 1406.6V1413.1M238.1 1406.6V1413.1M365.0 1406.6V1413.1M491.8 1406.6V1413.1M618.6 1406.6V1413.1M745.5 1406.6V1413.1" stroke="#000" stroke-width="4" fill="none"/>
<text transform="translate(47.6 1453.3) scale(1 1.045)" font-size="32.2" text-anchor="middle">10</text>
<text transform="translate(174.4 1453.3) scale(1 1.045)" font-size="32.2" text-anchor="middle">20</text>
<text transform="translate(301.3 1453.3) scale(1 1.045)" font-size="32.2" text-anchor="middle">30</text>
<text transform="translate(428.1 1453.3) scale(1 1.045)" font-size="32.2" text-anchor="middle">40</text>
<text transform="translate(554.9 1453.3) scale(1 1.045)" font-size="32.2" text-anchor="middle">50</text>
<text transform="translate(681.8 1453.3) scale(1 1.045)" font-size="32.2" text-anchor="middle">60</text>
<text transform="translate(808.6 1453.3) scale(1 1.045)" font-size="32.2" text-anchor="middle">70</text>
<text transform="translate(403.6 1511.2) scale(1 1.05)" font-size="31.5" class="sans">2</text>
<text transform="translate(423.3 1510.1) scale(1.1 1)" font-size="26">θ</text>
<text transform="translate(437.9 1512.0)" font-size="37" class="sans">°</text>
<text transform="translate(27.2 1205.5) rotate(-90) scale(1 1.06)" font-size="32.2" textLength="201" lengthAdjust="spacingAndGlyphs">Intensity (a.u.)</text>
<text transform="translate(737.3 840.8) scale(1 1.09)" font-size="49" letter-spacing="1.9">(b)</text>
</g>
</svg></body></html>
